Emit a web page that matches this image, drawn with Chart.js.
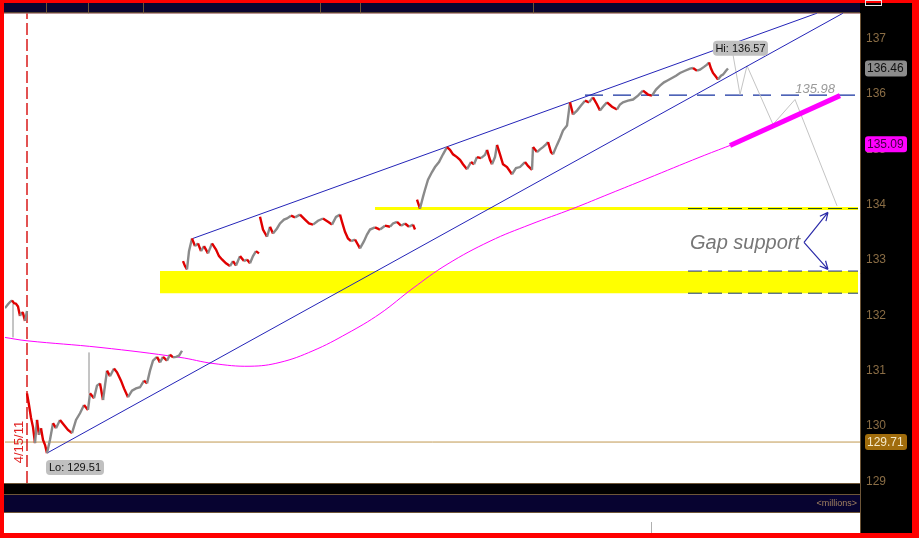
<!DOCTYPE html>
<html lang="en">
<head>
<meta charset="UTF-8">
<title>Intraday chart</title>
<script src="https://cdn.jsdelivr.net/npm/chart.js"></script>
<style>
  html, body { margin: 0; padding: 0; background: #ff0000; overflow: hidden; }
</style>
</head>
<body>
<canvas id="myChart" width="919" height="538"></canvas>
<script>
// bar index, close  (one array per session)
const sessA = [[0,132.13],[3,132.20],[5,132.24],[7,132.27],[9,132.22],[11,132.21],[13,132.16],[15,131.99],[17,132.06],[18,132.04],[20,131.90],[22,132.08]];
const sessB = [[22,130.59],[24,130.38],[26,130.15],[28,129.98],[30,129.69],[32,130.11],[34,129.84],[36,129.96],[38,129.75],[40,129.66],[42,129.51],[45,129.75],[48,130.05],[51,129.96],[55,130.11],[59,130.02],[63,129.93],[67,129.87],[71,130.11],[75,130.23],[79,130.38],[83,130.29],[85,130.59],[89,130.50],[92,130.73],[95,130.77],[98,130.47],[102,131.00],[105,130.90],[109,131.04],[112,130.97],[116,130.82],[119,130.68],[123,130.52],[127,130.64],[131,130.68],[135,130.70],[139,130.82],[142,130.77],[145,131.00],[148,131.18],[152,131.25],[155,131.15],[158,131.25],[162,131.18],[165,131.29],[168,131.24],[171,131.25],[174,131.27],[177,131.36]];
const sessC = [[178,132.98],[180,132.89],[182,132.83],[184,133.16],[187,133.39],[190,133.25],[193,133.30],[196,133.16],[199,133.25],[203,133.12],[207,133.30],[211,133.19],[214,133.07],[217,133.01],[221,132.94],[225,132.89],[228,132.98],[231,132.90],[235,133.07],[239,132.98],[242,133.01],[245,132.94],[248,133.07],[251,133.16],[254,133.12]];
const sessD = [[255,133.78],[258,133.55],[262,133.42],[265,133.60],[268,133.48],[272,133.57],[275,133.66],[279,133.73],[282,133.75],[286,133.80],[290,133.77],[295,133.82],[300,133.73],[304,133.66],[308,133.64],[313,133.71],[318,133.75],[323,133.69],[327,133.64],[331,133.78],[335,133.82],[337,133.69],[340,133.51],[343,133.39],[346,133.34],[350,133.37],[355,133.21],[359,133.34],[362,133.46],[365,133.55],[370,133.59],[375,133.55],[380,133.62],[385,133.60],[388,133.66],[392,133.69],[396,133.62],[400,133.66],[404,133.60],[408,133.64],[410,133.55]];
const sessE = [[412,134.09],[415,133.93],[418,134.14],[420,134.27],[423,134.45],[427,134.59],[430,134.68],[434,134.77],[438,134.91],[442,135.04],[445,134.99],[448,134.91],[452,134.86],[455,134.81],[458,134.73],[462,134.64],[466,134.77],[469,134.73],[472,134.86],[476,134.84],[480,134.90],[482,134.99],[485,134.81],[487,134.73],[490,134.86],[492,135.08],[495,134.91],[498,134.73],[502,134.68],[507,134.55],[511,134.66],[515,134.68],[520,134.77],[523,134.70],[527,134.63],[528,135.04],[532,134.95],[535,135.00],[538,135.04],[541,135.09],[543,135.13],[546,134.95],[548,134.91],[552,135.08],[555,135.20],[558,135.34],[562,135.43],[565,135.85],[568,135.63],[572,135.70],[576,135.79],[580,135.88],[584,135.85],[588,135.94],[592,135.81],[595,135.70],[599,135.79],[602,135.85],[607,135.77],[612,135.72],[615,135.81],[618,135.85],[623,135.88],[628,135.90],[633,135.97],[638,136.06],[643,135.99],[647,135.97],[651,136.08],[655,136.15],[659,136.21],[662,136.24],[667,136.29],[671,136.33],[675,136.38],[680,136.42],[685,136.46],[688,136.47],[692,136.42],[695,136.44],[699,136.49],[702,136.53],[704,136.57],[706,136.46],[708,136.38],[711,136.31],[713,136.26],[716,136.33],[718,136.35],[721,136.42],[723,136.46]];
// long wicks [bar, low, high]
const wicks = [[8,131.60,132.21],[84,130.59,131.33]];

// moving average
const maLine = [[0,131.60],[22,131.54],[95,131.42],[175,131.24],[208,131.13],[245,131.08],[275,131.15],[308,131.36],[342,131.67],[375,132.03],[408,132.49],[442,132.92],[485,133.34],[525,133.64],[568,133.93],[605,134.20],[642,134.47],[695,134.86],[725,135.07]];
const maProj = [[725,135.07],[835,135.97]];

// drawn trend lines
const upperChannel = [[188,133.39],[812,137.46]];
const lowerChannel = [[42,129.51],[838,137.46]];
const pathProj = [[728,136.71],[735,135.99],[742,136.51],[768,135.45],[790,135.90],[832,133.98]];

// levels
const gapBand = [132.40, 132.80];
const gapLine = 133.93;
const resLevel = 135.98;
const lowLevel = 129.71;
const markerBar = 22;
const lastClose = 136.46, maLast = 135.09, hiVal = 136.57, loVal = 129.51;
const loBar = 42;
const tickVals = [129,130,131,132,133,134,135,136,137];
const arrowFrom = [799,133.32];
const arrowTips = [[823,133.86],[823,132.83]];

const pts = a => a.map(p => ({x: p[0], y: p[1]}));
const hline = (v, x0, x1) => [{x: x0, y: v}, {x: x1, y: v}];

const upDown = {
  borderColor: c => c.p1.parsed.y >= c.p0.parsed.y ? '#8a8a8a' : '#e00000'
};
function priceSet(a) {
  return { data: pts(a), borderColor: '#e00000', borderWidth: 2.4, segment: upDown, order: 1 };
}
const wickData = [];
wicks.forEach(w => { wickData.push({x: w[0], y: w[1]}, {x: w[0], y: w[2]}, {x: w[0], y: null}); });

const datasets = [
  priceSet(sessA), priceSet(sessB), priceSet(sessC), priceSet(sessD), priceSet(sessE),
  { data: wickData, borderColor: '#8a8a8a', borderWidth: 1, spanGaps: false, order: 2 },
  { data: hline(gapBand[1], 155, 853), borderWidth: 0, borderColor: 'rgba(0,0,0,0)', backgroundColor: '#ffff00', fill: {value: gapBand[0]}, order: 20 },
  { data: hline(gapLine, 370, 853), borderColor: '#ffff00', borderWidth: 3, order: 19 },
  { data: hline(gapLine, 683, 853), borderColor: '#1f4a2a', borderWidth: 1, borderDash: [14, 6], order: 18 },
  { data: hline(gapBand[1], 683, 853), borderColor: '#1a2a9a', borderWidth: 1, borderDash: [14, 6], order: 18 },
  { data: hline(gapBand[0], 683, 853), borderColor: '#1a3a70', borderWidth: 1, borderDash: [14, 6], order: 18 },
  { data: hline(resLevel, 580, 853), borderColor: '#1530a0', borderWidth: 1.2, borderDash: [18, 10], order: 18 },
  { data: hline(lowLevel, 0, 855), borderColor: '#c09850', borderWidth: 1, order: 17 },
  { data: [{x: markerBar, y: 128.97}, {x: markerBar, y: 137.46}], borderColor: '#d81818', borderWidth: 1.5, borderDash: [12, 4], order: 16 },
  { data: pts(maLine), borderColor: '#ff00ff', borderWidth: 1, tension: 0.4, order: 6 },
  { data: pts(maProj), borderColor: '#ff00ff', borderWidth: 5, order: 6 },
  { data: pts(upperChannel), borderColor: '#2424b8', borderWidth: 1, order: 5 },
  { data: pts(lowerChannel), borderColor: '#2424b8', borderWidth: 1, order: 5 },
  { data: pts(pathProj), borderColor: '#c4c4c4', borderWidth: 1, order: 7 }
];

function box(ctx, x, y, w, h, r, fill) {
  ctx.beginPath();
  ctx.roundRect(x, y, w, h, r);
  ctx.fillStyle = fill;
  ctx.fill();
}

const frame = {
  id: 'frame',
  beforeDraw(chart) {
    const ctx = chart.ctx, a = chart.chartArea;
    ctx.save();
    ctx.fillStyle = '#ff0000';
    ctx.fillRect(0, 0, 919, 538);
    ctx.fillStyle = '#000000';
    ctx.fillRect(a.right, 3, 912 - a.right, 530);
    ctx.fillStyle = '#ffffff';
    ctx.fillRect(4, a.top, a.right - 4, a.bottom - a.top);
    ctx.fillStyle = '#0a0530';
    ctx.fillRect(4, 3, a.right - 4, a.top - 3);
    ctx.fillStyle = '#000000';
    ctx.fillRect(4, a.bottom, a.right - 4, 12);
    ctx.fillStyle = '#070330';
    ctx.fillRect(4, a.bottom + 12, a.right - 4, 17);
    ctx.fillStyle = '#ffffff';
    ctx.fillRect(4, a.bottom + 29, a.right - 4, 533 - a.bottom - 29);
    ctx.strokeStyle = '#6e5638';
    ctx.lineWidth = 1;
    [a.top - 0.5, a.bottom + 0.5, a.bottom + 11.5, a.bottom + 29.5].forEach(y => {
      ctx.beginPath(); ctx.moveTo(4, y); ctx.lineTo(a.right, y); ctx.stroke();
    });
    ctx.beginPath(); ctx.moveTo(a.right + 0.5, a.top); ctx.lineTo(a.right + 0.5, 533); ctx.stroke();
    [46, 88, 143, 320, 360, 533].forEach(x => {
      ctx.beginPath(); ctx.moveTo(x + 0.5, 3); ctx.lineTo(x + 0.5, a.top); ctx.stroke();
    });
    ctx.strokeStyle = '#e8e8e8';
    ctx.strokeRect(865.5, 0.5, 16, 5);
    ctx.strokeStyle = '#b0b0b0';
    ctx.beginPath(); ctx.moveTo(651.5, a.bottom + 39); ctx.lineTo(651.5, 533); ctx.stroke();
    ctx.fillStyle = '#a08060';
    ctx.font = '9px "Liberation Sans", Arial, sans-serif';
    ctx.textAlign = 'right'; ctx.textBaseline = 'middle';
    ctx.fillText('<millions>', a.right - 3, a.bottom + 21);
    ctx.restore();
  },
  afterDatasetsDraw(chart) {
    const ctx = chart.ctx, xs = chart.scales.x, ys = chart.scales.y;
    const X = v => xs.getPixelForValue(v), Y = v => ys.getPixelForValue(v);
    ctx.save();
    // date marker text
    ctx.translate(X(markerBar) - 8, Y(lowLevel));
    ctx.rotate(-Math.PI / 2);
    ctx.fillStyle = '#e02020';
    ctx.font = '13px "Liberation Sans", Arial, sans-serif';
    ctx.textAlign = 'center'; ctx.textBaseline = 'middle';
    ctx.fillText('4/15/11', 0, 0);
    ctx.setTransform(1, 0, 0, 1, 0, 0);
    // hi / lo labels
    ctx.font = '11px "Liberation Sans", Arial, sans-serif';
    ctx.textAlign = 'center';
    const hx = X(pathProj[0][0]), hy = Y(pathProj[0][1]);
    box(ctx, hx - 20, hy - 14, 55, 15, 4, '#c0c0c0');
    ctx.fillStyle = '#111';
    ctx.fillText('Hi: ' + hiVal.toFixed(2), hx + 7.5, hy - 6);
    const lx = X(loBar), ly = Y(loVal);
    box(ctx, lx - 1, ly + 7, 58, 15, 4, '#c0c0c0');
    ctx.fillStyle = '#111';
    ctx.fillText('Lo: ' + loVal.toFixed(2), lx + 28, ly + 15);
    // resistance value
    ctx.font = 'italic 13px "Liberation Sans", Arial, sans-serif';
    ctx.fillStyle = '#9a9a9a';
    ctx.textAlign = 'right';
    ctx.fillText(resLevel.toFixed(2), X(830), Y(resLevel) - 6);
    // gap support
    ctx.font = 'italic 20px "Liberation Sans", Arial, sans-serif';
    ctx.fillStyle = '#767676';
    ctx.textAlign = 'left';
    ctx.fillText('Gap support', X(685), Y(arrowFrom[1]) + 1);
    // arrows
    ctx.strokeStyle = '#2a2aa8';
    ctx.lineWidth = 1.2;
    const fx = X(arrowFrom[0]), fy = Y(arrowFrom[1]);
    arrowTips.forEach(t => {
      const tx = X(t[0]), ty = Y(t[1]);
      const ang = Math.atan2(ty - fy, tx - fx);
      ctx.beginPath(); ctx.moveTo(fx, fy); ctx.lineTo(tx, ty);
      ctx.moveTo(tx, ty); ctx.lineTo(tx - 9 * Math.cos(ang - 0.45), ty - 9 * Math.sin(ang - 0.45));
      ctx.moveTo(tx, ty); ctx.lineTo(tx - 9 * Math.cos(ang + 0.45), ty - 9 * Math.sin(ang + 0.45));
      ctx.stroke();
    });
    ctx.restore();
  },
  afterDraw(chart) {
    const ctx = chart.ctx, ys = chart.scales.y, a = chart.chartArea;
    ctx.save();
    ctx.font = '12px "Liberation Sans", Arial, sans-serif';
    ctx.textAlign = 'left'; ctx.textBaseline = 'middle';
    const tags = [[lastClose, '#8c8c8c', '#101010'], [maLast, '#ff00ff', '#400040'], [lowLevel, '#a06c0c', '#f4e8c8']];
    tags.forEach(t => {
      const y = ys.getPixelForValue(t[0]);
      box(ctx, a.right + 5, y - 8, 42, 16, 3, t[1]);
      ctx.fillStyle = t[2];
      ctx.fillText(t[0].toFixed(2), a.right + 7, y + 0.5);
    });
    ctx.restore();
  }
};

const ctx = document.getElementById('myChart').getContext('2d');
new Chart(ctx, {
  type: 'line',
  data: { datasets: datasets },
  options: {
    responsive: false,
    animation: false,
    events: [],
    layout: { padding: { left: 5, top: 10, bottom: 55, right: 7 } },
    elements: { point: { radius: 0 }, line: { tension: 0 } },
    plugins: { legend: { display: false }, tooltip: { enabled: false } },
    scales: {
      x: { type: 'linear', min: 0, max: 855, display: false },
      y: {
        position: 'right', min: 128.97, max: 137.46,
        afterBuildTicks: s => { s.ticks = tickVals.map(v => ({value: v})); },
        afterFit: s => { s.width = 52; },
        grid: { display: false, drawTicks: false },
        border: { display: false },
        ticks: { color: '#8a6d45', padding: 6, font: { size: 12, family: '"Liberation Sans", Arial, sans-serif' } }
      }
    }
  },
  plugins: [frame]
});
</script>
</body>
</html>
